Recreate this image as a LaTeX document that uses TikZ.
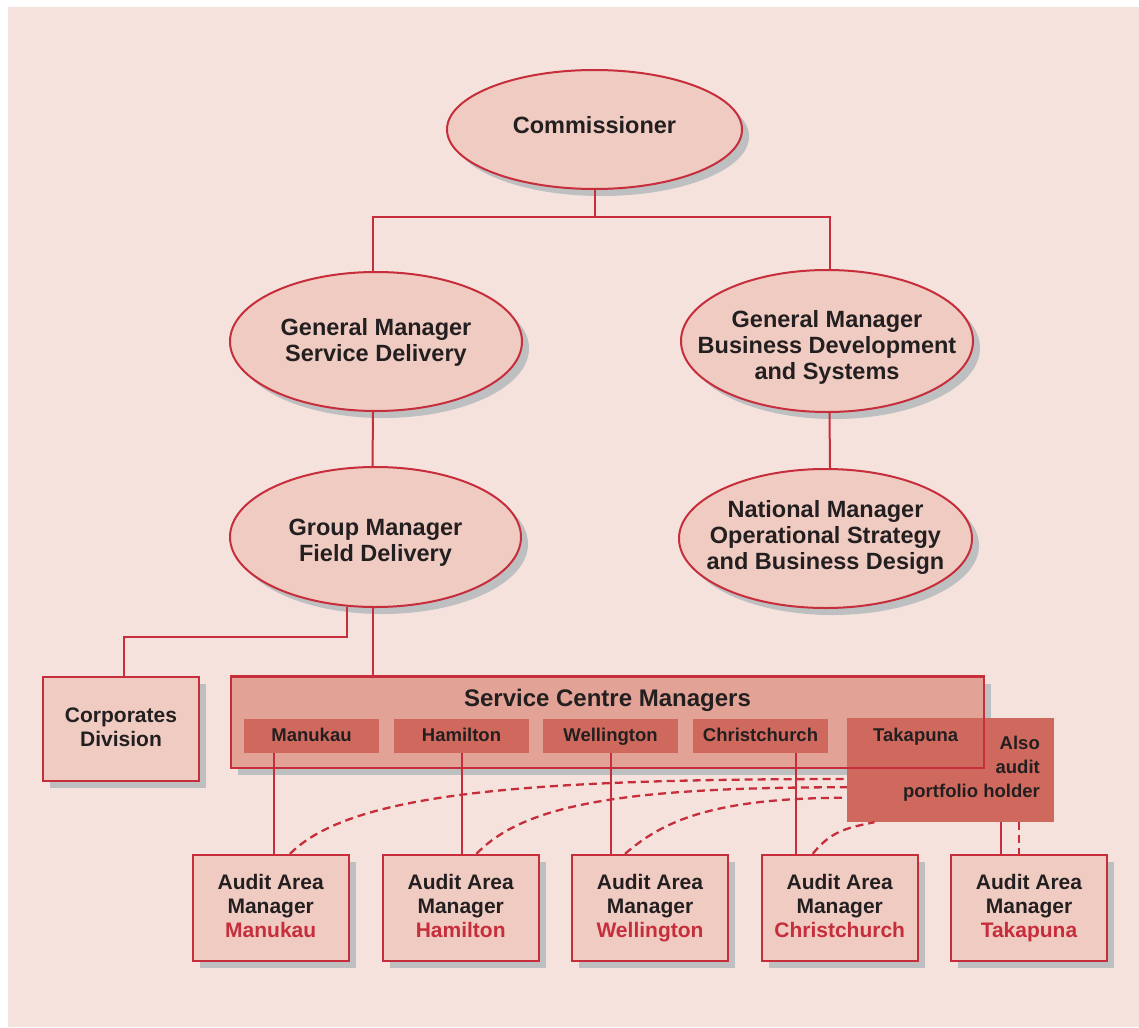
\documentclass[tikz,border=0pt]{standalone}
\usepackage{fontspec}
\setmainfont{Liberation Sans}
\usetikzlibrary{shapes.geometric,calc}
\definecolor{bgc}{HTML}{F5E2DC}
\definecolor{ellc}{HTML}{F0CBC1}
\definecolor{redc}{HTML}{C62E3C}
\definecolor{scmc}{HTML}{E2A396}
\definecolor{smc}{HTML}{D0695D}
\definecolor{shadc}{HTML}{BDBFC1}
\definecolor{txtc}{HTML}{231F20}
\tikzset{
  shad/.style={preaction={fill=shadc, transform canvas={xshift=7pt,yshift=-7pt}}},
  ell/.style={ellipse, draw=redc, line width=2pt, fill=ellc, inner sep=0pt, shad},
  boxc/.style={rectangle, draw=redc, line width=2.4pt, fill=ellc, inner sep=0pt, shad},
  etxt/.style={font=\fontsize{23.5}{26}\selectfont\bfseries, text=txtc, align=center, inner sep=0pt},
  atxt/.style={font=\fontsize{21}{24}\selectfont\bfseries, text=txtc, align=center, inner sep=0pt, text depth=4.4pt},
  stxt/.style={font=\fontsize{18.5}{24}\selectfont\bfseries, text=txtc, inner sep=0pt, text height=13.5pt, text depth=4pt},
  smbox/.style={rectangle, fill=smc, minimum width=135, minimum height=34, inner sep=0pt},
  conn/.style={draw=redc, line width=2pt},
  dconn/.style={draw=redc, line width=2.3pt, dash pattern=on 8pt off 5pt},
}
\begin{document}
\begin{tikzpicture}[x=1pt,y=-1pt]
\useasboundingbox (0,0) rectangle (1139,1027);
\fill[white] (0,0) rectangle (1139,1027);
\fill[bgc] (8,7) rectangle (1139,1027);

% ellipses
\node[ell, minimum width=295, minimum height=119] (com) at (594.5,129.5) {};
\node[etxt] (comT) at (594.5,125) {Commissioner};
\node[ell, minimum width=292, minimum height=139] (gmsd) at (376,341.5) {};
\node[etxt] (gmsdT) at (376,342) {General Manager\\Service Delivery};
\node[ell, minimum width=292, minimum height=142] (gmbd) at (827,341) {};
\node[etxt] (gmbdT) at (827,347) {General Manager\\Business Development\\and Systems};
\node[ell, minimum width=293, minimum height=139] (nmos) at (825.5,538.5) {};
\node[etxt] (nmosT) at (825.5,537) {National Manager\\Operational Strategy\\and Business Design};
\node[ell, minimum width=291, minimum height=140] (gmfd) at (375.5,537) {};
\node[etxt] (gmfdT) at (375.5,543) {Group Manager\\Field Delivery};

% corporates
\node[boxc, minimum width=156, minimum height=104] (corp) at (121,729) {};
\node[atxt, text depth=0pt] (corpT) at (121,727) {Corporates\\Division};

% service centre managers
\node[rectangle, fill=scmc, minimum width=753, minimum height=91.5, inner sep=0pt, shad] (scm) at (607.5,722.25) {};
\node[font=\fontsize{24}{26}\selectfont\bfseries, text=txtc, inner sep=0pt] (scmT) at (607.5,700) {Service Centre Managers};
\node[smbox] (sM) at (311.5,736) {};
\node[smbox] (sH) at (461.5,736) {};
\node[smbox] (sW) at (610.5,736) {};
\node[smbox] (sC) at (760.5,736) {};
\node[stxt] (sMT) at (311.5,737) {Manukau};
\node[stxt] (sHT) at (461.5,737) {Hamilton};
\node[stxt] (sWT) at (610.5,737) {Wellington};
\node[stxt] (sCT) at (760.5,737) {Christchurch};
\node[rectangle, fill=smc, minimum width=207, minimum height=104.5, inner sep=0pt] (also) at (950.5,769.75) {};
\draw[redc, line width=2.4pt] (scm.south west) rectangle (scm.north east);
\node[stxt] (sTT) at (915.7,737) {Takapuna};
\node[stxt, text height=, text depth=, align=right, anchor=east] (alsoT) at (1040,768.5) {Also\\audit\\portfolio holder};

% audit area managers
\foreach \n/\x/\c in {aM/270.7/Manukau, aH/460.7/Hamilton, aW/650/Wellington, aC/839.7/Christchurch, aT/1029/Takapuna}{
  \node[boxc, minimum width=156, minimum height=106] (\n) at (\x,908) {};
  \node[atxt] (\n T) at (\x,908.2) {Audit Area\\Manager\\\textcolor{redc}{\c}};
}

% connectors
\coordinate (j1) at ($(com.south)+(0,27)$);
\draw[conn] (com.south) -- (j1);
\draw[conn] ([xshift=-3pt]gmsd.north) |- (j1) -| ([xshift=2.5pt]gmbd.north);
\draw[conn] ([xshift=-3pt]gmsd.south) -- ([xshift=-3pt]gmfd.north);
\draw[conn] ([xshift=2.5pt]gmbd.south) -- ([xshift=4.5pt]nmos.north);
\coordinate (f1) at ([xshift=-29pt,yshift=1.4pt]gmfd.south);
\coordinate (kc) at ($(corp.north)+(3,-38.7)$);
\draw[conn] (f1) |- (kc) -- ([xshift=3pt]corp.north);
\coordinate (f2) at ([xshift=-2.8pt]gmfd.south);
\draw[conn] (f2) -- (f2 |- scm.north);

\coordinate (cM) at ([xshift=-37.5pt]sM.south);
\coordinate (cH) at (sH.south);
\coordinate (cW) at (sW.south);
\coordinate (cC) at ([xshift=35pt]sC.south);
\coordinate (cT) at ([xshift=50.2pt]also.south);
\coordinate (dT) at ([xshift=68.2pt]also.south);
\foreach \c/\a in {cM/aM, cH/aH, cW/aW, cC/aC, cT/aT}{
  \draw[conn] (\c) -- (\c |- \a.north);
}
\draw[dconn] (dT) -- (dT |- aT.north);

\draw[dconn] ([xshift=19.3pt]aM.north) .. controls +(60,-60) and +(-327,0) .. ([yshift=-9.25pt]also.west);
\draw[dconn] ([xshift=15.8pt]aH.north) .. controls +(48,-50) and +(-220,0) .. ([yshift=-17.5pt]also.west);
\draw[dconn] ([xshift=-25pt]aW.north) .. controls +(35,-30) and +(-140,0) .. ([yshift=-28pt]also.west);
\draw[dconn] ([xshift=-27pt]aC.north) .. controls +(18,-22) and +(-30,6) .. ([xshift=-76pt]also.south);
\end{tikzpicture}
\end{document}
